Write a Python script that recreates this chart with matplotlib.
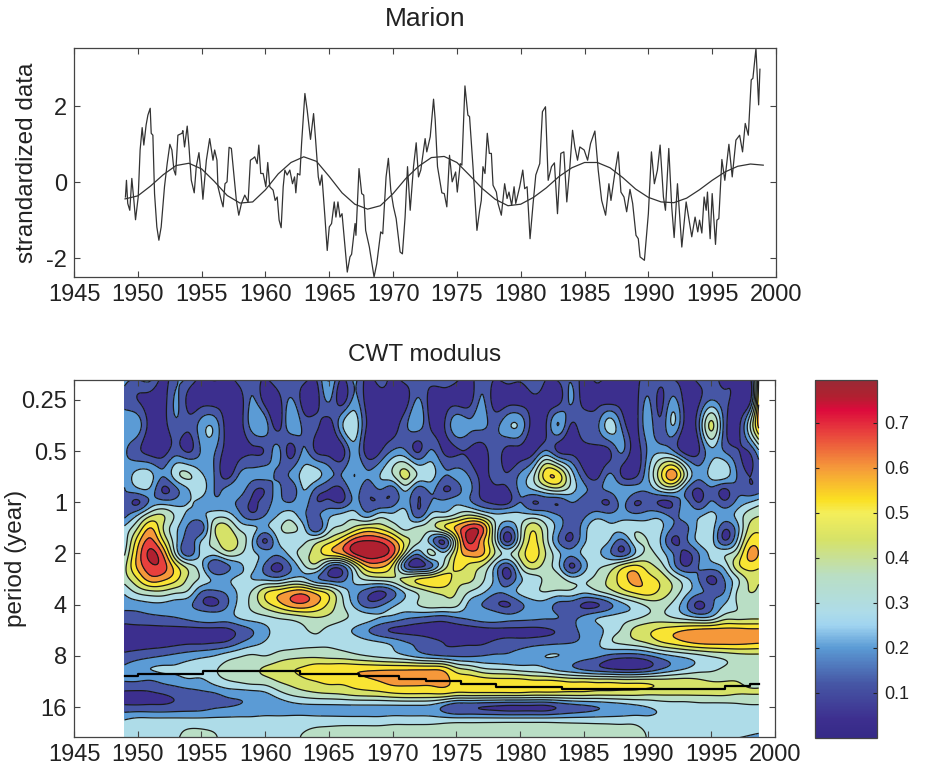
import numpy as np
import matplotlib
matplotlib.use("Agg")
import matplotlib.pyplot as plt
from matplotlib.colors import LinearSegmentedColormap
from matplotlib.cm import ScalarMappable
from matplotlib.colors import Normalize

plt.rcParams['font.family'] = ['Liberation Sans', 'DejaVu Sans']
plt.rcParams['axes.unicode_minus'] = False

series_year = [1949.03,1949.11,1949.21,1949.37,1949.53,1949.69,1949.82,1950.03,1950.18,1950.34,1950.47,1950.65,1950.79,1950.97,1951.05,1951.18,1951.31,1951.49,1951.65,1951.83,
1952.09,1952.30,1952.51,1952.67,1952.83,1952.96,1953.14,1953.46,1953.53,1953.66,1953.87,1954.01,1954.19,1954.42,1954.58,1954.79,1954.95,1955.10,1955.37,1955.63,
1955.89,1956.02,1956.20,1956.28,1956.54,1956.68,1956.83,1956.99,1957.15,1957.33,1957.54,1957.72,1957.91,1958.12,1958.38,1958.64,1958.82,1959.03,1959.16,1959.35,
1959.48,1959.63,1959.82,1960.03,1960.18,1960.34,1960.60,1960.76,1960.92,1961.07,1961.23,1961.39,1961.52,1961.70,1961.91,1962.12,1962.28,1962.38,1962.51,1962.70,
1962.83,1963.09,1963.27,1963.53,1963.77,1963.93,1964.14,1964.27,1964.42,1964.66,1964.84,1965.00,1965.18,1965.39,1965.52,1965.68,1965.84,1966.00,1966.23,1966.41,
1966.62,1966.75,1967.02,1967.09,1967.33,1967.54,1967.70,1967.85,1968.14,1968.51,1968.72,1969.03,1969.19,1969.45,1969.63,1969.82,1970.03,1970.24,1970.55,1970.73,
1970.94,1971.13,1971.34,1971.60,1971.81,1971.99,1972.17,1972.51,1972.64,1972.91,1973.17,1973.30,1973.48,1973.82,1974.01,1974.21,1974.42,1974.63,1974.90,1975.03,
1975.26,1975.39,1975.63,1975.86,1975.99,1976.26,1976.57,1976.78,1976.91,1977.04,1977.20,1977.38,1977.54,1977.70,1977.83,1978.09,1978.22,1978.48,1978.74,1978.93,
1979.08,1979.29,1979.48,1979.61,1979.92,1980.16,1980.31,1980.50,1980.73,1980.97,1981.18,1981.49,1981.70,1981.94,1982.15,1982.41,1982.64,1982.88,1983.14,1983.38,
1983.61,1983.85,1984.06,1984.24,1984.45,1984.63,1984.97,1985.24,1985.47,1985.81,1986.07,1986.34,1986.65,1986.91,1987.07,1987.33,1987.64,1987.85,1988.09,1988.30,
1988.56,1988.77,1989.03,1989.21,1989.35,1989.69,1990.00,1990.24,1990.47,1990.71,1990.92,1991.18,1991.34,1991.60,1991.83,1992.02,1992.28,1992.62,1992.96,1993.40,
1993.66,1993.87,1994.01,1994.19,1994.37,1994.53,1994.63,1994.84,1995.00,1995.26,1995.37,1995.52,1995.76,1995.99,1996.31,1996.57,1996.86,1997.15,1997.38,1997.59,
1997.83,1998.06,1998.19,1998.43,1998.64,1998.74]
series_val = [-.39,.05,-.56,-.74,.10,-.48,-.99,-.39,.85,1.44,.98,1.51,1.77,1.95,1.29,1.24,-.30,-1.18,-1.53,-1.18,
-.12,.49,1.00,.85,.32,.19,1.24,1.29,1.36,.93,1.48,.93,.05,-.28,.41,.78,.23,-.45,.58,1.15,
.58,.85,.58,-.12,-.48,-.65,-.04,.01,.92,.89,.14,-.48,-.87,-.56,-.34,-.52,.58,.63,.67,.49,
.98,.23,.23,-.12,.52,-.12,-.21,-.48,-.39,-1.00,-1.20,-.12,.32,.19,.32,-.04,.14,-.28,.23,.19,
1.02,2.34,1.90,1.13,1.81,1.11,.14,-.08,.19,-.92,-1.80,-1.18,-1.09,-.52,-.92,-.52,-.92,-.83,-1.71,-2.37,
-1.97,-1.90,-1.09,-1.40,.36,-.30,-.34,-1.27,-1.71,-2.50,-2.15,-1.31,-1.36,.14,.63,-.21,-.65,-.96,-1.84,-1.89,
-.92,.41,-.74,.41,1.04,.14,.32,1.15,.80,1.20,2.19,1.64,.41,-.28,-.30,-.65,.71,.01,.27,-.26,
.49,.45,2.54,1.77,1.73,.41,-1.27,-.74,-.48,.41,.23,1.29,.76,.76,-.08,-.26,-.56,-.87,-.04,-.43,
-.26,-.61,-.12,-.56,-.12,.32,-.17,-.12,-1.49,-.56,.19,.49,1.86,1.99,.05,.41,.51,-.83,.76,.80,
-.52,.41,1.37,.93,.58,.93,.85,.58,1.02,1.35,.32,-.48,-.87,-.04,-.48,.14,.80,-.26,-.39,-.78,
-.19,-.56,-1.40,-1.49,-1.97,-2.06,-.83,.80,-.04,.32,.98,-.39,-.74,.89,-.65,-1.46,-.04,-1.71,-.52,-1.44,
-.92,-1.31,-1.00,-1.34,-.39,-.74,-.26,-1.49,-.30,-1.64,-1.00,-.96,.60,.05,1.00,.14,1.11,1.24,.80,1.55,
1.24,2.70,2.74,3.53,2.04,2.98]

trend_year = list(range(1949, 2000))
trend_val = [-.44,-.36,-.10,.20,.44,.50,.35,.02,-.35,-.55,-.52,-.20,.22,.52,.67,.55,.15,-.28,-.58,-.71,-.62,-.30,.10,.42,.65,.68,
.52,.18,-.17,-.45,-.62,-.58,-.40,-.15,.15,.38,.52,.52,.38,.12,-.18,-.40,-.52,-.54,-.42,-.20,.05,.27,.42,.48,.45]

# CWT modulus (x100): one column per year 1949..1999
grid_years = list(range(1949, 2000))
grid_log2 = [-2.5,-2,-1.5,-1,-.5,-.25,0,.25,.5,.75,1,1.25,1.5,1.75,2,2.25,2.5,2.75,3,3.25,3.5,3.75,4,4.25,4.5,4.75]
row_m250 = [20, 20,22,6,14,18,8,12,6,14,14, 10,18,10,14,10,26,10,18,6,14, 6,14,8,14,16,14,6,14,10,16, 14,18,10,14,14,6,12,8,6,6, 10,12,6,6,12,12,6,6,6,70]
row_m200 = [14, 8,4,4,17,5,4,4,4,4,17, 4,4,17,4,4,17,4,18,4,4, 4,4,17,4,4,4,4,17,4,4, 4,6,4,4,17,4,5,4,4,4, 17,6,18,4,6,16,10,4,4,80]
row_m150 = [20, 20,4,4,14,10,20,22,4,4,20, 20,5,22,14,10,4,22,30,7,4, 4,14,20,7,7,22,18,18,14,22, 22,4,7,24,7,14,14,28,14,4, 20,10,24,4,14,42,14,4,30,70]
row_m100 = [17, 10,4,4,12,7,17,17,4,4,7, 9,18,5,17,7,4,4,20,4,7, 17,17,7,17,7,7,7,4,12,5, 5,5,17,7,5,4,5,7,17,4, 17,22,17,4,7,22,16,9,9,30]
row_m050 = [18, 28,27,16,28,33,26,16,6,18,18, 18,15,17,27,27,18,16,24,17,24, 30,42,30,27,16,18,16,6,10,9, 18,30,52,53,30,12,6,18,8,7, 22,45,60,35,18,26,27,16,8,14]
row_m025 = [16, 22,22,7,14,24,28,16,18,20,10, 9,18,10,24,14,8,7,20,10,16, 12,26,12,18,8,12,18,6,6,7, 18,24,32,36,28,18,14,18,20,18, 18,28,32,17,7,14,7,14,10,14]
row_000 = [14, 7,18,20,20,24,22,18,18,14,7, 12,18,16,20,9,10,8,18,10,9, 12,20,8,16,18,22,18,10,6,6, 16,8,10,9,16,12,10,8,18,8, 10,7,9,18,8,17,10,18,24,30]
row_025 = [14, 24,38,40,30,22,22,28,28,18,10, 16,24,28,18,14,22,26,28,20,28, 26,27,12,26,28,34,40,34,26,26, 26,26,22,16,12,14,20,18,20,18, 20,20,14,20,22,26,20,26,36,40]
row_050 = [26, 40,56,40,26,14,12,38,43,30,26, 22,30,34,26,10,28,34,42,48,46, 38,30,34,36,46,58,70,66,34,14, 30,46,34,20,10,20,30,26,27,30, 28,26,15,14,26,28,10,20,42,45]
row_075 = [28, 52,66,48,26,12,24,36,46,38,24, 7,24,28,30,36,44,54,68,72,70, 60,44,34,20,8,44,74,60,34,6, 32,50,36,16,8,22,28,24,14,30, 32,24,7,14,26,27,9,24,50,50]
row_100 = [32, 58,74,62,30,12,26,27,36,33,26, 20,18,27,36,44,52,58,72,78,76, 66,36,18,34,26,48,60,58,40,30, 42,52,40,26,18,26,26,18,10,24, 34,28,16,6,16,26,30,38,58,52]
row_125 = [38, 58,70,68,50,36,26,9,14,22,26, 14,6,16,30,36,16,14,36,56,58, 46,14,6,14,34,50,46,40,24,10, 32,44,36,26,7,20,30,34,44,50, 44,36,20,8,16,20,26,44,52,48]
row_150 = [36, 48,60,58,50,38,30,22,22,26,24, 22,20,26,26,18,12,12,26,34,36, 38,42,48,52,54,44,42,34,22,8, 22,28,34,36,28,30,34,42,52,58, 52,46,36,26,16,6,16,30,42,40]
row_175 = [26, 34,38,38,34,30,16,14,18,26,33, 46,52,58,60,52,44,30,20,12,7, 14,26,34,40,42,40,32,26,18,18, 26,30,32,30,30,26,30,36,44,50, 52,46,38,27,18,14,16,32,40,38]
row_200 = [19, 20,22,22,20,18,10,7,15,27,34, 44,52,60,62,56,46,34,22,12,14, 22,27,32,36,36,34,22,16,10,7, 14,20,20,14,12,7,7,14,22,28, 34,36,30,18,6,14,24,32,36,36]
row_225 = [12, 13,14,15,16,18,20,20,20,25,28, 30,33,35,38,40,38,34,30,27,24, 22,18,16,14,13,16,18,20,20,18, 18,18,17,16,14,18,23,26,28,30, 34,35,32,28,24,26,36,37,38,38]
row_250 = [5, 5,5,5,5,5,5,5,6,11,16, 22,27,29,31,33,30,27,23,17,11, 7,6,5,5,5,4,4,5,6,6, 6,6,7,9,13,18,20,28,33,42, 46,50,53,56,58,59,59,59,58,58]
row_275 = [5, 5,5,5,6,7,7,8,10,16,21, 25,28,29,30,31,31,30,29,27,25, 22,17,14,10,8,7,7,7,10,12, 12,13,14,15,16,18,22,30,33,36, 40,46,50,54,57,58,58,58,57,56]
row_300 = [10, 12,14,16,18,20,22,24,28,31,33, 32,35,37,38,38,37,36,34,32,30, 28,25,21,18,16,15,15,16,17,17, 19,22,24,24,22,20,18,14,12,12, 15,20,24,27,30,33,35,37,38,38]
row_325 = [18, 22,24,25,25,27,28,31,34,36,38, 41,44,47,49,52,53,54,54,54,54, 54,54,54,54,52,42,38,33,31,30, 28,27,25,21,18,14,11,8,6,6, 9,15,20,24,28,30,33,35,36,36]
row_350 = [16, 16,15,18,20,22,22,27,31,33,35, 36,40,43,46,48,50,50,52,54,56, 58,58,58,58,58,54,54,53,52,52, 52,50,50,49,47,47,46,46,45,45, 45,44,44,44,42,40,40,40,38,38]
row_375 = [6, 6,7,8,10,12,14,15,18,19,20, 22,28,33,36,38,39,40,42,43,44, 46,47,47,47,47,44,44,44,44,44, 44,43,43,43,43,43,42,42,42,42, 41,41,41,41,41,41,41,40,40,40]
row_400 = [10, 10,10,10,11,12,13,15,16,17,18, 18,19,21,22,22,22,22,22,22,22, 22,22,22,21,15,9,9,8,7,6, 6,6,6,9,12,14,16,18,20,22, 24,26,27,27,28,28,28,29,30,30]
row_425 = [24, 26,26,26,26,26,26,26,26,26,26, 27,27,27,27,27,27,27,27,27,27, 28,28,28,28,28,28,28,28,28,28, 28,28,28,28,28,28,28,28,28,28, 26,26,26,26,26,26,26,26,26,26]
row_450 = [27, 28,29,30,31,33,33,32,30,29,30, 30,30,31,32,34,35,36,36,36,36, 36,36,36,36,36,36,36,36,36,36, 36,36,36,36,36,36,36,36,36,36, 31,29,28,27,26,25,26,26,25,24]
row_475 = [28, 29,30,31,32,33,33,32,31,30,30, 30,30,31,32,34,35,36,36,37,37, 37,37,37,37,37,37,37,37,37,37, 37,37,37,36,36,36,36,36,36,36, 31,28,27,26,25,24,22,20,18,16]

ridge_year = [1949,1950,1955.1,1962.7,1967.4,1970.5,1972.6,1975.4,1978.1,1983.3,1996.1,1998,1998.72]
ridge_log2 = [3.40,3.36,3.30,3.36,3.40,3.445,3.49,3.555,3.60,3.64,3.59,3.555,3.555]

period_ticks = [0.25,0.5,1,2,4,8,16]
period_labels = ['0.25','0.5','1','2','4','8','16']
year_ticks = list(range(1945,2001,5))
cbar_ticks = [.1,.2,.3,.4,.5,.6,.7]
levels = [.08,.16,.24,.32,.40,.48,.56,.64,.72]

stops = [(0,'#352a87'),(.04,'#3d2f8f'),(.12,'#4657a5'),(.20,'#5b9bd5'),(.25,'#a0d4f0'),(.28,'#aedce8'),
         (.36,'#b9dec4'),(.44,'#d6e268'),(.50,'#f4ee5a'),(.53,'#fbdf22'),(.60,'#f59a3a'),(.68,'#e8403d'),
         (.73,'#dc0a3c'),(.76,'#b02030'),(.795,'#9a2a35')]
vmax = .795
cmap = LinearSegmentedColormap.from_list('cwt',[(a/vmax,c) for a,c in stops])

def spline(x, Y, xn):
    """natural cubic spline along axis 0"""
    x = np.asarray(x,float); Y = np.asarray(Y,float); n=len(x)
    h = np.diff(x)
    A = np.zeros((n,n)); A[0,0]=A[-1,-1]=1
    B = np.zeros_like(Y)
    for i in range(1,n-1):
        A[i,i-1]=h[i-1]; A[i,i]=2*(h[i-1]+h[i]); A[i,i+1]=h[i]
        B[i]=6*((Y[i+1]-Y[i])/h[i]-(Y[i]-Y[i-1])/h[i-1])
    M = np.linalg.solve(A,B)
    idx = np.clip(np.searchsorted(x,xn)-1,0,n-2)
    t1 = (x[idx+1]-xn); t0=(xn-x[idx]); hh=h[idx]
    sh = (-1,)+(1,)*(Y.ndim-1)
    t1=t1.reshape(sh); t0=t0.reshape(sh); hh=hh.reshape(sh)
    return M[idx]*t1**3/(6*hh)+M[idx+1]*t0**3/(6*hh)+(Y[idx]/hh-M[idx]*hh/6)*t1+(Y[idx+1]/hh-M[idx+1]*hh/6)*t0

rows = [row_m250,row_m200,row_m150,row_m100,row_m050,row_m025,row_000,row_025,row_050,row_075,row_100,row_125,row_150,row_175,row_200,row_225,row_250,row_275,
        row_300,row_325,row_350,row_375,row_400,row_425,row_450,row_475]
Z = np.array(rows,float)/100
xf = np.linspace(1948.96,1998.72,500)
yf = np.linspace(-2.4,4.6,420)
Zf = spline(grid_log2, spline(grid_years, Z.T, xf).T, yf)
Zf = np.clip(Zf,.005,None)

W,H = 925,772
fig = plt.figure(figsize=(W/100,H/100),dpi=100)
def axpx(l,t,r,b):
    return fig.add_axes([l/W,1-b/H,(r-l)/W,(b-t)/H])

GR='#444444'
FS=17
def style(ax,fs=FS):
    for s in ax.spines.values():
        s.set_color(GR); s.set_linewidth(.9)
    ax.tick_params(direction='in',length=4,width=.8,color=GR,labelsize=fs,labelcolor='#222222',pad=5)

# top panel
ax1 = axpx(74,48,776,277)
ax1.plot(series_year,series_val,color='#333333',lw=.9)
ax1.plot(trend_year,trend_val,color='#333333',lw=.9)
ax1.set_xlim(1945,2000); ax1.set_ylim(-2.5,3.54)
ax1.set_xticks(year_ticks); ax1.set_yticks([-2,0,2])
ax1.tick_params(top=True,right=True)
style(ax1)
ax1.set_title('Marion',fontsize=19,color='#222222',pad=16)
ax1.set_ylabel('strandardized data',fontsize=17.5,color='#222222',labelpad=0)
ax1.yaxis.set_label_coords((38-74)/702,.5)

# CWT panel
ax2 = axpx(74,380,775,737)
mids = [.04,.12,.20,.28,.36,.44,.52,.60,.68,.76]
cols = [cmap(m/vmax) for m in mids]
ax2.contourf(xf,yf,Zf,levels=[-1]+levels+[5],colors=cols)
ax2.contour(xf,yf,Zf,levels=levels,colors='#1a1a1a',linewidths=.9)
ax2.step(ridge_year,ridge_log2,where='post',color='black',lw=1.6)
ax2.set_xlim(1945,2000); ax2.set_ylim(4.586,-2.39)
ax2.set_xticks(year_ticks)
ax2.set_yticks(np.log2(period_ticks)); ax2.set_yticklabels(period_labels)
ax2.tick_params(top=True,right=True)
style(ax2)
ax2.set_title('CWT modulus',fontsize=17.5,color='#222222',pad=14)
ax2.set_ylabel('period (year)',fontsize=17.5,color='#222222')
ax2.yaxis.set_label_coords((27-74)/701,.5)

# colour bar
cax = axpx(815,380,877,738)
cb = fig.colorbar(ScalarMappable(Normalize(0,vmax),cmap),cax=cax)
cb.set_ticks(cbar_ticks)
cb.ax.tick_params(direction='in',length=3,width=.8,color='#222222',labelsize=13,labelcolor='#222222',pad=5,left=True,right=True)
cb.outline.set_edgecolor(GR); cb.outline.set_linewidth(.9)

fig.savefig('out.png',dpi=100)
